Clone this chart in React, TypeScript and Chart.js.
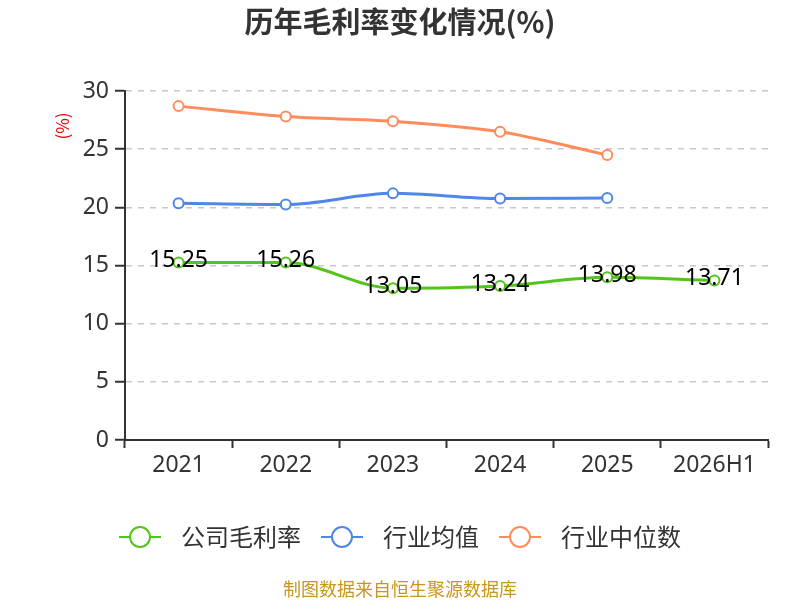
import React, { useEffect, useRef } from "react";
import { Chart, registerables } from "chart.js";

Chart.register(...registerables);

const categories = ["2021", "2022", "2023", "2024", "2025", "2026H1"];
const companyMargin = [15.25, 15.26, 13.05, 13.24, 13.98, 13.71];
const industryAvg = [20.35, 20.25, 21.2, 20.75, 20.8, null];
const industryMedian = [28.7, 27.8, 27.4, 26.5, 24.5, null];
const seriesNames = ["公司毛利率", "行业均值", "行业中位数"];
const seriesColors = ["#52c41a", "#4f86e8", "#ff8c5a"];
const titleText = "历年毛利率变化情况(%)";
const unitText = "(%)";
const sourceText = "制图数据来自恒生聚源数据库";

const FONT = '"Noto Sans", "Noto Sans CJK SC", sans-serif';
const CJK = '"Noto Sans CJK SC", "Noto Sans", sans-serif';

const overlayPlugin = {
  id: "overlay",
  afterDraw(chart: any) {
    const ctx = chart.ctx;
    ctx.save();
    // title
    ctx.fillStyle = "#333";
    ctx.font = `bold 29px ${CJK}`;
    ctx.textAlign = "center";
    ctx.textBaseline = "middle";
    ctx.fillText(titleText, 400, 22);
    // unit
    ctx.save();
    ctx.translate(63, 126);
    ctx.rotate(-Math.PI / 2);
    ctx.fillStyle = "#e00";
    ctx.font = `17px ${CJK}`;
    ctx.fillText(unitText, 0, 0);
    ctx.restore();
    // data labels for company
    const meta = chart.getDatasetMeta(0);
    ctx.fillStyle = "#000";
    ctx.font = `23px ${FONT}`;
    meta.data.forEach((pt: any, i: number) => {
      ctx.fillText(companyMargin[i].toFixed(2), pt.x, pt.y - 2);
    });
    // legend
    ctx.font = `24px ${CJK}`;
    const items = seriesNames.map((n, i) => ({ n, c: seriesColors[i], w: ctx.measureText(n).width }));
    const symW = 42, gapText = 20, gapItem = 20;
    let total = 0;
    items.forEach((it, i) => {
      total += symW + gapText + it.w + (i < items.length - 1 ? gapItem : 0);
    });
    let x = 400 - total / 2;
    const y = 537;
    items.forEach((it) => {
      ctx.strokeStyle = it.c;
      ctx.lineWidth = 2;
      ctx.beginPath();
      ctx.moveTo(x, y);
      ctx.lineTo(x + symW, y);
      ctx.stroke();
      ctx.beginPath();
      ctx.arc(x + symW / 2, y, 10, 0, Math.PI * 2);
      ctx.fillStyle = "#fff";
      ctx.fill();
      ctx.stroke();
      ctx.fillStyle = "#333";
      ctx.textAlign = "left";
      ctx.fillText(it.n, x + symW + gapText, y);
      x += symW + gapText + it.w + gapItem;
    });
    // source
    ctx.textAlign = "center";
    ctx.fillStyle = "#c8961e";
    ctx.font = `18px ${CJK}`;
    ctx.fillText(sourceText, 400, 589);
    ctx.restore();
  },
};

export default function App() {
  const ref = useRef<HTMLCanvasElement>(null);
  useEffect(() => {
    const mk = (label: string, data: any[], color: string) => ({
      label,
      data,
      borderColor: color,
      backgroundColor: "#fff",
      borderWidth: 3,
      pointRadius: 5,
      pointBorderWidth: 2,
      pointBackgroundColor: "#fff",
      pointBorderColor: color,
      cubicInterpolationMode: "monotone",
      spanGaps: false,
    });
    const chart = new Chart(ref.current as HTMLCanvasElement, {
      type: "line",
      data: {
        labels: categories,
        datasets: [
          mk(seriesNames[0], companyMargin, seriesColors[0]),
          mk(seriesNames[1], industryAvg, seriesColors[1]),
          mk(seriesNames[2], industryMedian, seriesColors[2]),
        ],
      },
      options: {
        animation: false,
        responsive: false,
        devicePixelRatio: 1,
        layout: { padding: { left: 0, right: 32, top: 91, bottom: 0 } },
        plugins: { legend: { display: false }, tooltip: { enabled: false }, title: { display: false } },
        scales: {
          x: {
            offset: true,
            afterFit: (s: any) => { s.height = 160; },
            grid: { offset: true, drawOnChartArea: false, drawTicks: true, tickLength: 8, tickColor: "#333", tickWidth: 2 },
            border: { color: "#333", width: 2 },
            ticks: { color: "#333", font: { size: 23, family: FONT }, padding: 4 },
          },
          y: {
            min: 0,
            max: 30,
            afterFit: (s: any) => { s.width = 125; },
            ticks: { stepSize: 5, color: "#333", font: { size: 23, family: FONT }, padding: 6 },
            grid: { color: "#c8c8c8", lineWidth: 1.5, tickLength: 10, tickColor: "#333", tickWidth: 2, tickBorderDash: [] },
            border: { color: "#333", width: 2, dash: [6, 6] },
          },
        },
      } as any,
      plugins: [overlayPlugin],
    });
    return () => chart.destroy();
  }, []);
  return (
    <div style={{ position: "fixed", left: 0, top: 0, width: 800, height: 600, background: "#fff" }}>
      <canvas ref={ref} width={800} height={600} style={{ width: 800, height: 600 }} />
    </div>
  );
}
